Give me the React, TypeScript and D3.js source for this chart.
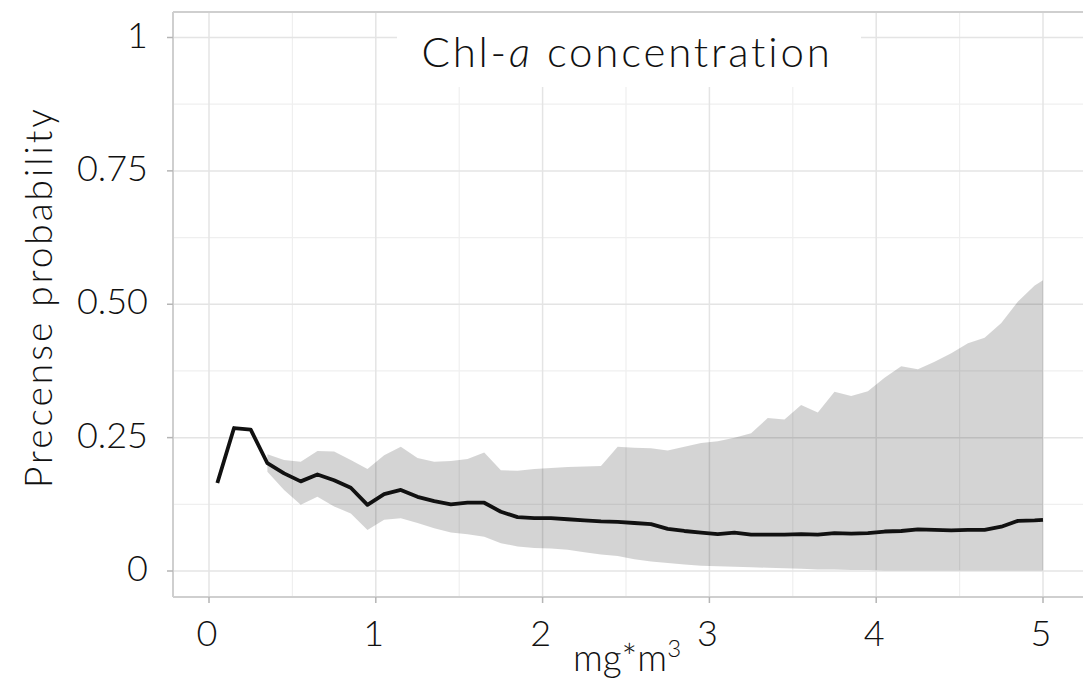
import React from "react";
import * as d3 from "d3";

const xs = [0.05, 0.15, 0.25, 0.35, 0.45, 0.55, 0.65, 0.75, 0.85, 0.95,
  1.05, 1.15, 1.25, 1.35, 1.45, 1.55, 1.65, 1.75, 1.85, 1.95,
  2.05, 2.15, 2.25, 2.35, 2.45, 2.55, 2.65, 2.75, 2.85, 2.95,
  3.05, 3.15, 3.25, 3.35, 3.45, 3.55, 3.65, 3.75, 3.85, 3.95,
  4.05, 4.15, 4.25, 4.35, 4.45, 4.55, 4.65, 4.75, 4.85, 4.95, 5.0];

const meanVals = [0.165, 0.268, 0.265, 0.202, 0.183, 0.168, 0.181, 0.170, 0.156, 0.124,
  0.144, 0.152, 0.139, 0.131, 0.125, 0.128, 0.128, 0.111, 0.101, 0.099,
  0.099, 0.097, 0.095, 0.093, 0.092, 0.090, 0.088, 0.079, 0.075, 0.072,
  0.069, 0.072, 0.068, 0.068, 0.068, 0.069, 0.068, 0.071, 0.070, 0.071,
  0.074, 0.075, 0.078, 0.077, 0.076, 0.077, 0.077, 0.083, 0.094, 0.095, 0.096];

const upperVals = [null, null, null, 0.219, 0.208, 0.205, 0.225, 0.224, 0.208, 0.191,
  0.217, 0.233, 0.212, 0.205, 0.206, 0.210, 0.222, 0.189, 0.188, 0.191,
  0.193, 0.195, 0.196, 0.197, 0.233, 0.231, 0.230, 0.226, 0.233, 0.240,
  0.243, 0.250, 0.258, 0.287, 0.284, 0.311, 0.297, 0.336, 0.328, 0.337,
  0.362, 0.384, 0.378, 0.392, 0.408, 0.427, 0.437, 0.465, 0.505, 0.535, 0.545];

const lowerVals = [null, null, null, 0.186, 0.152, 0.124, 0.139, 0.121, 0.108, 0.077,
  0.096, 0.099, 0.090, 0.080, 0.072, 0.069, 0.064, 0.052, 0.046, 0.043,
  0.042, 0.040, 0.035, 0.031, 0.028, 0.022, 0.018, 0.015, 0.012, 0.010,
  0.009, 0.008, 0.007, 0.006, 0.005, 0.004, 0.003, 0.003, 0.002, 0.002,
  0.001, 0.001, 0.001, 0.001, 0.001, 0.001, 0.001, 0.001, 0.001, 0.001, 0.001];

const xTicks = [0, 1, 2, 3, 4, 5];
const xMinor = [0.5, 1.5, 2.5, 3.5, 4.5];
const yTicks = [0, 0.25, 0.5, 0.75, 1];
const yTickLabels = ["0", "0.25", "0.50", "0.75", "1"];
const yMinor = [0.125, 0.375, 0.625, 0.875];

const FONT = "Lato, 'Noto Sans', sans-serif";

export default function App() {
  const W = 1083, H = 678;
  const x = d3.scaleLinear().domain([0, 5]).range([209, 1043]);
  const y = d3.scaleLinear().domain([0, 1]).range([571, 37.5]);
  const panel = { left: 173, top: 12, right: 1095, bottom: 597 };

  const pts = xs.map((v, i) => ({ x: v, m: meanVals[i], lo: lowerVals[i], hi: upperVals[i] }));
  const band = d3.area<any>()
    .defined((d) => d.lo != null && d.hi != null)
    .x((d) => x(d.x))
    .y0((d) => y(d.lo))
    .y1((d) => y(d.hi));
  const line = d3.line<any>().x((d) => x(d.x)).y((d) => y(d.m));

  return (
    <svg width={W} height={H} style={{ position: "absolute", left: 0, top: 0, background: "#fff" }}>
      <rect x={0} y={0} width={W} height={H} fill="#fff" />
      {/* minor gridlines */}
      {xMinor.map((v) => (
        <line key={"xm" + v} x1={x(v)} x2={x(v)} y1={panel.top} y2={panel.bottom} stroke="#efefef" strokeWidth={1.2} />
      ))}
      {yMinor.map((v) => (
        <line key={"ym" + v} x1={panel.left} x2={panel.right} y1={y(v)} y2={y(v)} stroke="#efefef" strokeWidth={1.2} />
      ))}
      {/* major gridlines */}
      {xTicks.map((v) => (
        <line key={"xg" + v} x1={x(v)} x2={x(v)} y1={panel.top} y2={panel.bottom} stroke="#e4e4e4" strokeWidth={1.5} />
      ))}
      {yTicks.map((v) => (
        <line key={"yg" + v} x1={panel.left} x2={panel.right} y1={y(v)} y2={y(v)} stroke="#e4e4e4" strokeWidth={1.5} />
      ))}
      {/* ribbon */}
      <path d={band(pts) || ""} fill="#000" fillOpacity={0.17} />
      {/* mean line */}
      <path d={line(pts) || ""} fill="none" stroke="#111" strokeWidth={3.8} strokeLinejoin="round" />
      {/* panel border */}
      <line x1={panel.left} x2={panel.right} y1={panel.top} y2={panel.top} stroke="#cfcfcf" strokeWidth={2} />
      <line x1={panel.left} x2={panel.right} y1={panel.bottom} y2={panel.bottom} stroke="#cfcfcf" strokeWidth={2} />
      <line x1={panel.left} x2={panel.left} y1={panel.top} y2={panel.bottom} stroke="#cfcfcf" strokeWidth={2} />
      {/* title box */}
      <rect x={397} y={13} width={464} height={74} fill="#fff" />
      <text x={627} y={67} textAnchor="middle" fontFamily={FONT} fontWeight={300} fontSize={42} letterSpacing={2.8} fill="#111">
        Chl-<tspan fontStyle="italic">a</tspan> concentration
      </text>
      {/* y ticks */}
      {yTicks.map((v, i) => (
        <g key={"yt" + v}>
          <line x1={panel.left - 6} x2={panel.left} y1={y(v)} y2={y(v)} stroke="#b5b5b5" strokeWidth={1.5} />
          <text x={148} y={y(v) + 10} textAnchor="end" fontFamily={FONT} fontWeight={300} fontSize={36} fill="#111">
            {yTickLabels[i]}
          </text>
        </g>
      ))}
      {/* x ticks */}
      {xTicks.map((v) => (
        <g key={"xt" + v}>
          <line x1={x(v)} x2={x(v)} y1={panel.bottom} y2={panel.bottom + 6} stroke="#b5b5b5" strokeWidth={1.5} />
          <text x={x(v) - 2} y={646} textAnchor="middle" fontFamily={FONT} fontWeight={300} fontSize={36} fill="#111">
            {v}
          </text>
        </g>
      ))}
      {/* axis titles */}
      <text x={627} y={671} textAnchor="middle" fontFamily={FONT} fontWeight={300} fontSize={37} fill="#111">
        mg*m<tspan fontSize={24} dy={-14}>3</tspan>
      </text>
      <text transform="translate(52,297) rotate(-90)" textAnchor="middle" fontFamily={FONT} fontWeight={300} fontSize={37} letterSpacing={3} fill="#111">
        Precense probability
      </text>
    </svg>
  );
}
